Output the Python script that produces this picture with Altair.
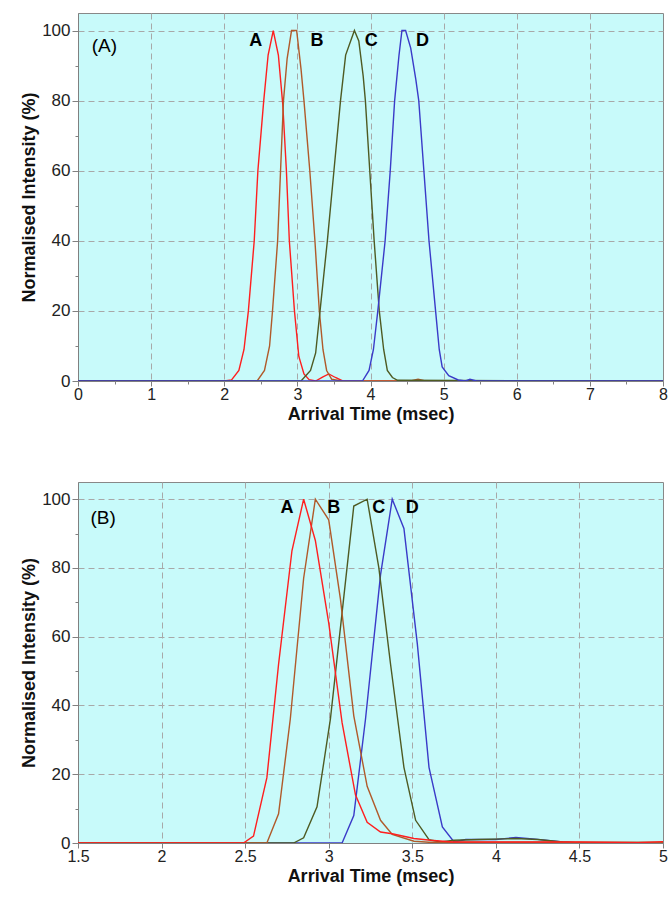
import altair as alt
import pandas as pd

# ---------------- Panel (A) data ----------------
A_top_x = [0, 2.0, 2.1, 2.2, 2.27, 2.33, 2.41, 2.46, 2.54, 2.6, 2.67, 2.74, 2.8, 2.85, 2.89, 2.96, 3.02, 3.09, 3.16, 3.25, 3.35, 3.43, 3.52, 3.62, 8]
A_top_y = [0, 0, 0.3, 3, 9, 20, 40, 60, 80, 93, 100, 93, 79, 60, 40, 20, 7, 2, 0.4, 0, 1.2, 2, 1, 0, 0]

B_top_x = [0, 2.45, 2.55, 2.62, 2.66, 2.73, 2.77, 2.81, 2.86, 2.92, 2.99, 3.05, 3.09, 3.17, 3.24, 3.30, 3.35, 3.40, 3.47, 3.6, 4.55, 4.65, 4.75, 8]
B_top_y = [0, 0, 3, 10, 20, 40, 60, 80, 92, 100, 100, 89, 80, 60, 40, 20, 9, 3, 0.5, 0, 0, 0.5, 0, 0]

C_top_x = [0, 3.05, 3.18, 3.25, 3.31, 3.41, 3.50, 3.59, 3.66, 3.78, 3.84, 3.90, 3.93, 3.99, 4.05, 4.12, 4.18, 4.23, 4.30, 4.37, 8]
C_top_y = [0, 0, 3, 8, 20, 40, 60, 80, 93, 100, 97, 87, 80, 60, 40, 20, 9, 3, 1, 0.2, 0]

D_top_x = [0, 3.89, 3.98, 4.04, 4.10, 4.20, 4.27, 4.33, 4.39, 4.43, 4.48, 4.55, 4.62, 4.66, 4.73, 4.80, 4.89, 4.94, 4.98, 5.07, 5.2, 5.3, 5.36, 5.45, 8]
D_top_y = [0, 0, 3, 9, 20, 40, 60, 80, 93, 100, 100, 95, 86, 80, 60, 40, 20, 9, 4, 1.5, 0.3, 0, 0.5, 0, 0]

# ---------------- Panel (B) data ----------------
A_bot_x = [1.5, 2.49, 2.55, 2.63, 2.70, 2.78, 2.85, 2.92, 3.00, 3.08, 3.16, 3.23, 3.31, 3.38, 3.51, 3.61, 3.74, 4.5, 4.85, 5.0]
A_bot_y = [0, 0, 2, 19, 52, 85, 100, 88, 64, 35, 14, 6, 3.2, 2.7, 1.3, 0.8, 0.3, 0.3, 0.1, 0.4]

B_bot_x = [1.5, 2.63, 2.70, 2.77, 2.85, 2.92, 3.00, 3.07, 3.15, 3.23, 3.31, 3.38, 3.51, 3.6, 5.0]
B_bot_y = [0, 0, 8.5, 36, 77, 100, 94, 71, 37, 16.5, 6.6, 2.5, 0.5, 0.2, 0.2]

C_bot_x = [1.5, 2.79, 2.85, 2.93, 3.01, 3.08, 3.15, 3.23, 3.30, 3.37, 3.45, 3.52, 3.60, 3.67, 3.75, 3.9, 4.05, 4.12, 4.25, 4.4, 4.5, 5.0]
C_bot_y = [0, 0, 1.5, 10.5, 36, 67, 98, 100, 80, 52, 22, 6.6, 1, 0.3, 0.8, 1, 1.2, 1.3, 1, 0.3, 0, 0]

D_bot_x = [1.5, 3.08, 3.15, 3.22, 3.31, 3.38, 3.45, 3.53, 3.60, 3.68, 3.75, 3.82, 4.0, 4.12, 4.22, 4.4, 4.5, 5.0]
D_bot_y = [0, 0, 8, 36, 78, 100, 91.5, 58, 22, 4.7, 0.3, 1, 1, 1.6, 1.2, 0.3, 0, 0]

series_names = ["A", "B", "C", "D"]
series_colors = ["#FF1E1E", "#B05A2A", "#4E5A22", "#3A3AC8"]

# label annotations (data coordinates)
top_lab_x = [2.43, 3.27, 4.01, 4.71]
top_lab_y = [97, 97, 97, 97]
bot_lab_x = [2.75, 3.03, 3.30, 3.50]
bot_lab_y = [97.5, 97.5, 97.5, 97.5]
panel_names = ["(A)", "(B)"]
panel_lab_x = [0.36, 1.65]
panel_lab_y = [95.5, 94.5]

FONT = "Liberation Sans"
GRID = "#A8A8A8"
AXC = "#808080"


def y_axis():
    return alt.Axis(
        values=list(range(0, 101, 10)),
        labelExpr="datum.value % 20 === 0 ? format(datum.value, 'd') : ''",
        tickSize={"condition": {"test": "datum.value % 20 === 0", "value": 6}, "value": 3},
        gridOpacity={"condition": {"test": "datum.value % 20 === 0 && datum.value > 0", "value": 1}, "value": 0},
        title="Normalised Intensity (%)",
        titleFontSize=18, titleFontWeight="bold", titleFont=FONT, titleColor="#111",
        titlePadding=3,
        labelFontSize=17, labelFont=FONT, labelColor="#222", labelPadding=2,
        grid=True, gridColor=GRID, gridDash=[6, 4], gridWidth=1,
        domainColor=AXC, tickColor=AXC,
    )


def x_axis(vals, major_test, hi):
    return alt.Axis(
        values=vals,
        labelExpr=f"({major_test}) ? format(datum.value, '~g') : ''",
        tickSize={"condition": {"test": major_test, "value": 5}, "value": 3},
        gridOpacity={"condition": {"test": f"({major_test}) && datum.value < {hi}", "value": 1}, "value": 0},
        title="Arrival Time (msec)",
        titleFontSize=18, titleFontWeight="bold", titleFont=FONT, titleColor="#111",
        titlePadding=3,
        labelFontSize=16, labelFont=FONT, labelColor="#222", labelPadding=0,
        labelFlush=False,
        grid=True, gridColor=GRID, gridDash=[6, 4], gridWidth=1,
        domainColor=AXC, tickColor=AXC,
    )


def panel(curves, order, xdom, xvals, major_test, lab_x, lab_y, pname, px, py, h):
    xs = alt.Scale(domain=xdom, nice=False, zero=False)
    ys = alt.Scale(domain=[0, 105], nice=False)
    xa = x_axis(xvals, major_test, xdom[1])
    ya = y_axis()
    layers = []
    for i in order:
        xv, yv = curves[i]
        df = pd.DataFrame({"t": xv, "v": yv})
        layers.append(
            alt.Chart(df).mark_line(color=series_colors[i], strokeWidth=1.4, clip=True)
            .encode(x=alt.X("t:Q", scale=xs, axis=xa), y=alt.Y("v:Q", scale=ys, axis=ya),
                    order=alt.Order("t:Q"))
        )
    labdf = pd.DataFrame({"t": lab_x, "v": lab_y, "s": series_names})
    layers.append(
        alt.Chart(labdf).mark_text(font=FONT, fontSize=18, fontWeight="bold", color="#000")
        .encode(x=alt.X("t:Q", scale=xs, axis=xa), y=alt.Y("v:Q", scale=ys, axis=ya), text="s:N")
    )
    pdf = pd.DataFrame({"t": [px], "v": [py], "s": [pname]})
    layers.append(
        alt.Chart(pdf).mark_text(font=FONT, fontSize=19, color="#000")
        .encode(x=alt.X("t:Q", scale=xs, axis=xa), y=alt.Y("v:Q", scale=ys, axis=ya), text="s:N")
    )
    return alt.layer(*layers).properties(width=585, height=h)


top_curves = [(A_top_x, A_top_y), (B_top_x, B_top_y), (C_top_x, C_top_y), (D_top_x, D_top_y)]
bot_curves = [(A_bot_x, A_bot_y), (B_bot_x, B_bot_y), (C_bot_x, C_bot_y), (D_bot_x, D_bot_y)]

top = panel(top_curves, [0, 1, 2, 3], [0, 8], [i * 0.5 for i in range(17)],
            "datum.value % 1 === 0", top_lab_x, top_lab_y, panel_names[0],
            panel_lab_x[0], panel_lab_y[0], 368)
bot = panel(bot_curves, [3, 2, 1, 0], [1.5, 5], [1.5 + i * 0.5 for i in range(8)],
            "true", bot_lab_x, bot_lab_y, panel_names[1],
            panel_lab_x[1], panel_lab_y[1], 361)

chart = (
    alt.vconcat(top, bot, spacing=57)
    .properties(padding={"left": 20, "top": 12, "right": 0, "bottom": 5}, background="white")
    .configure_view(fill="#C8FAFA", stroke="#888888", strokeWidth=1)
)

chart.save("out.html", embed_options={"renderer": "svg", "actions": False})
